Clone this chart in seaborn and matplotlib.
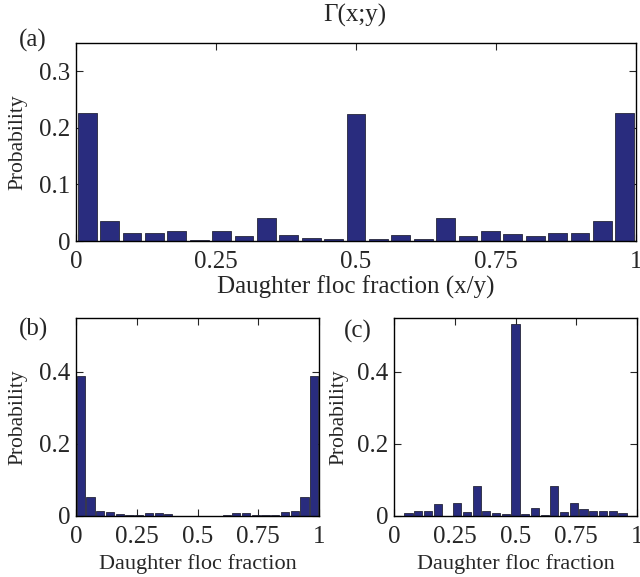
import numpy as np
import pandas as pd
import matplotlib
matplotlib.use("Agg")
import matplotlib.pyplot as plt
import seaborn as sns

# ---- data ----
bin_centers = np.round(np.arange(25) * 0.04 + 0.02, 2)

prob_a = [0.226, 0.035, 0.015, 0.014, 0.018, 0.002, 0.017, 0.009, 0.040, 0.010,
          0.005, 0.003, 0.224, 0.003, 0.010, 0.004, 0.040, 0.009, 0.017, 0.012,
          0.008, 0.014, 0.015, 0.035, 0.226]
prob_b = [0.390, 0.054, 0.014, 0.011, 0.006, 0.003, 0.003, 0.007, 0.009, 0.006,
          0.001, 0.001, 0.001, 0.001, 0.001, 0.003, 0.009, 0.008, 0.004, 0.003,
          0.004, 0.011, 0.014, 0.054, 0.390]
prob_c = [0.000, 0.007, 0.013, 0.015, 0.034, 0.000, 0.035, 0.012, 0.084, 0.014,
          0.009, 0.006, 0.533, 0.005, 0.021, 0.003, 0.084, 0.012, 0.035, 0.019,
          0.013, 0.015, 0.013, 0.007, 0.000]

xticks = [0, 0.25, 0.5, 0.75, 1]
xticklabels = ["0", "0.25", "0.5", "0.75", "1"]
yticks_a = [0, 0.1, 0.2, 0.3]
yticklabels_a = ["0", "0.1", "0.2", "0.3"]
yticks_bc = [0, 0.2, 0.4]
yticklabels_bc = ["0", "0.2", "0.4"]

title_text = "Γ(x;y)"
xlabel_a = "Daughter floc fraction (x/y)"
xlabel_bc = "Daughter floc fraction"
ylabel = "Probability"

# ---- style ----
sns.set_style("ticks", {
    "xtick.direction": "in", "ytick.direction": "in",
    "xtick.top": True, "ytick.right": True,
    "axes.edgecolor": "black",
})
plt.rcParams["font.family"] = ["Liberation Serif", "DejaVu Serif"]

BAR = "#292c7e"
EDGE = "#26263a"

fig = plt.figure(figsize=(6.4, 5.77), dpi=100)
W, H = 640.0, 577.0

def add_ax(left, top, right, bottom):
    return fig.add_axes([left / W, 1 - bottom / H, (right - left) / W, (bottom - top) / H])

ax_a = add_ax(76, 43, 636, 241)
ax_b = add_ax(76, 318, 319, 516)
ax_c = add_ax(394, 318, 637, 516)

def draw(ax, vals, yticks, yticklabels, ylim, xlabel, xl_fs, xl_y, yl_x):
    df = pd.DataFrame({"x": bin_centers, "p": vals})
    sns.barplot(data=df, x="x", y="p", native_scale=True, width=0.84,
                color=BAR, saturation=1, edgecolor=EDGE, linewidth=0.6,
                errorbar=None, ax=ax)
    ax.set_xlim(0, 1)
    ax.set_ylim(*ylim)
    ax.set_xticks(xticks)
    ax.set_xticklabels(xticklabels)
    ax.set_yticks(yticks)
    ax.set_yticklabels(yticklabels)
    ax.tick_params(axis="both", which="major", labelsize=18, length=5,
                   width=0.8, direction="in", top=True, right=True)
    ax.tick_params(axis="x", pad=7.5)
    ax.tick_params(axis="y", pad=4)
    for s in ax.spines.values():
        s.set_visible(True)
        s.set_linewidth(1.0)
        s.set_color("black")
    ax.set_xlabel(xlabel, fontsize=xl_fs)
    ax.set_ylabel(ylabel, fontsize=15.5)
    ax.xaxis.label.set_va("center")
    ax.yaxis.label.set_va("center")
    ax.xaxis.set_label_coords(0.5, xl_y)
    ax.yaxis.set_label_coords(yl_x, 0.5)

draw(ax_a, prob_a, yticks_a, yticklabels_a, (0, 0.35), xlabel_a, 18,
     (241 - 287) / 198, (18 - 76) / 560)
draw(ax_b, prob_b, yticks_bc, yticklabels_bc, (0, 0.55), xlabel_bc, 16,
     (516 - 564) / 198, (18 - 76) / 243)
draw(ax_c, prob_c, yticks_bc, yticklabels_bc, (0, 0.55), xlabel_bc, 16,
     (516 - 564) / 198, (339 - 394) / 243)

fig.text(355 / W, 1 - 15 / H, title_text, ha="center", va="center", fontsize=18)
fig.text(33 / W, 1 - 40 / H, "(a)", ha="center", va="center", fontsize=18)
fig.text(33 / W, 1 - 329 / H, "(b)", ha="center", va="center", fontsize=18)
fig.text(358 / W, 1 - 331 / H, "(c)", ha="center", va="center", fontsize=18)

fig.savefig("out.png", dpi=100)
